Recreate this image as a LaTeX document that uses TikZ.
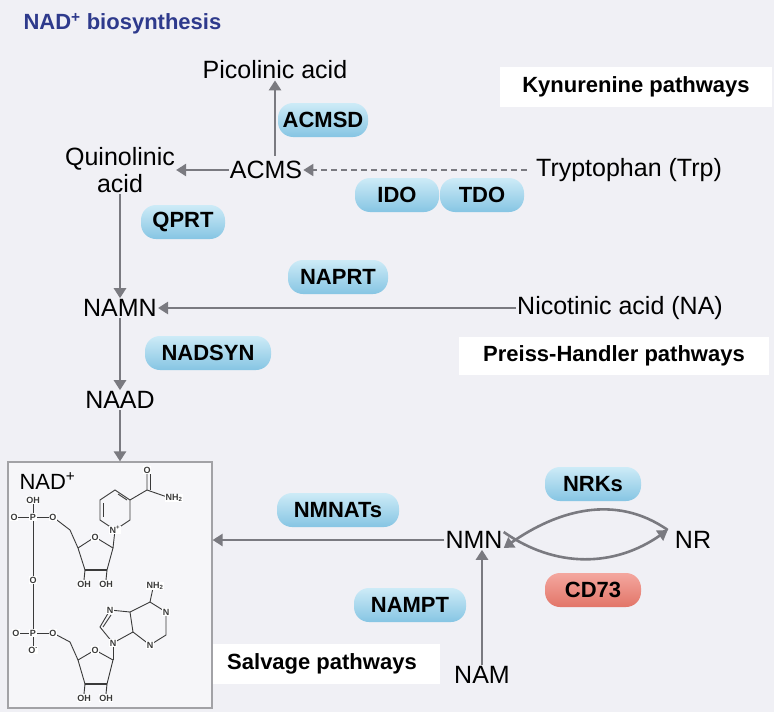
\documentclass[tikz,border=0pt]{standalone}
\usepackage{fontspec}
\setmainfont{Liberation Sans}
\usetikzlibrary{arrows.meta,shapes.geometric}
\definecolor{bg}{HTML}{F0F0F5}
\definecolor{titleblue}{HTML}{2E3A8C}
\definecolor{arrgray}{HTML}{7A7A80}
\definecolor{pilltop}{HTML}{CDEBF7}
\definecolor{pillbot}{HTML}{86C5E3}
\definecolor{redtop}{HTML}{F4A79F}
\definecolor{redbot}{HTML}{E27568}
\definecolor{chem}{HTML}{3A3A3A}
\tikzset{
  x=1pt,y=-1pt,
  lbl/.style={font=\fontsize{25}{27}\selectfont, text=black, align=center, inner sep=1pt},
  pill/.style={rounded corners=15pt, minimum height=34pt, minimum width=90pt, top color=pilltop, bottom color=pillbot, draw=none, font=\fontsize{22}{24}\selectfont\bfseries, inner sep=2pt},
  redpill/.style={pill, top color=redtop, bottom color=redbot},
  whitebox/.style={fill=white, draw=none, font=\fontsize{22}{24}\selectfont\bfseries, inner sep=0pt},
  arr/.style={draw=arrgray, line width=2.6pt, -{Triangle[length=10pt,width=12pt]}},
  ch/.style={draw=chem, line width=0.9pt},
  ct/.style={font=\fontsize{9}{10}\selectfont\bfseries, text=chem, inner sep=0.5pt, fill=white}
}
\begin{document}
\begin{tikzpicture}
\fill[bg] (0,0) rectangle (774,712);
\useasboundingbox (0,0) rectangle (774,712);

\node[anchor=west, font=\fontsize{22}{24}\selectfont\bfseries, text=titleblue] (title) at (20,24) {NAD\textsuperscript{+} biosynthesis};

% white label boxes
\node[whitebox, minimum width=272pt, minimum height=40pt] (kyn) at (636,87) {Kynurenine pathways};
\node[whitebox, minimum width=310pt, minimum height=38pt] (ph) at (614,356) {Preiss-Handler pathways};
\node[whitebox, minimum width=236pt, minimum height=40pt] (salv) at (322,664) {Salvage pathways};

% metabolites
\node[lbl] (pic) at (275,70) {Picolinic acid};
\node[lbl] (quin) at (120,170) {Quinolinic\\acid};
\node[lbl] (acms) at (266,170) {ACMS};
\node[lbl] (trp) at (629,170) {Tryptophan (Trp)};
\node[lbl] (namn) at (120,308) {NAMN};
\node[lbl] (na) at (620,308) {Nicotinic acid (NA)};
\node[lbl] (naad) at (120,400) {NAAD};
\node[lbl] (nmn) at (474,540) {NMN};
\node[lbl] (nr) at (693,540) {NR};
\node[lbl] (nam) at (482,675) {NAM};

% enzymes
\node[pill] (acmsd) at (323,120) {ACMSD};
\node[pill, minimum width=84pt] (ido) at (397,195) {IDO};
\node[pill, minimum width=84pt] (tdo) at (482,195) {TDO};
\node[pill, minimum width=84pt] (qprt) at (183,222) {QPRT};
\node[pill, minimum width=100pt] (naprt) at (338,277) {NAPRT};
\node[pill, minimum width=126pt] (nadsyn) at (208,353) {NADSYN};
\node[pill, minimum width=122pt] (nmnat) at (338,510) {NMNATs};
\node[pill, minimum width=96pt] (nrk) at (593,484) {NRKs};
\node[redpill, minimum width=96pt] (cd73) at (593,590) {CD73};
\node[pill, minimum width=112pt] (nampt) at (410,605) {NAMPT};

% NAD+ box
\node[draw=arrgray!70, line width=1.2pt, fill=bg!60!white, minimum width=204pt, minimum height=246pt, inner sep=0pt] (nadbox) at (110,585) {};

% arrows
\draw[arr] (acms.north -| pic) ++(0,-4) coordinate (a0) -- (pic.south);
\draw[arr] (acms.west) -- (quin.east |- acms.west);
\draw[arr, dash pattern=on 6pt off 4pt, line width=1.8pt] (trp.west) ++(-8,0) coordinate (t0) -- (acms.east);
\draw[arr] (quin.south) -- (namn.north);
\draw[arr] (na.west) -- (namn.east);
\draw[arr] (namn.south) -- (naad.north);
\draw[arr] (naad.south) -- (nadbox.north -| naad.south);
\draw[arr] (nmn.west) -- (nadbox.east |- nmn.west);
\draw[arr] (nam.north) -- (nmn.south -| nam.north);
\draw[arr] (nr.west) ++(-6,-10) coordinate (r0) to[out=145,in=35] ([yshift=-8pt]nmn.east);
\draw[arr] ([yshift=8pt]nmn.east) to[out=-35,in=215] ([xshift=-6pt,yshift=10pt]nr.west);

% chemical structure
\node[anchor=west, font=\fontsize{22}{24}\selectfont] (nadlbl) at (16,481) {NAD\textsuperscript{+}};
\begin{scope}[ch]
\draw (33,503) -- (33,633);
\draw (14,517) -- (53,517);
\draw (16,633) -- (53,633);
\draw (33,633) -- (33,650);
\draw (53,517) -- (70,530) -- (78,548);
\draw (78,548) -- (95,537) -- (113,548) -- (107,570) -- (85,570) -- cycle;
\draw[line width=2.4pt] (85,570) -- (107,570);
\draw (85,570) -- (84,580); \draw (107,570) -- (106,580);
\draw (113,548) -- (115,530);
\draw (115,530) -- (100,520) -- (100,500) -- (115,490) -- (130,500) -- (130,520) -- cycle;
\draw (103,503) -- (103,517);
\draw (118,494) -- (127,500);
\draw (130,500) -- (147,490) -- (147,472); \draw (150,490) -- (150,474);
\draw (147,490) -- (170,498);
\draw (53,633) -- (70,642) -- (78,660);
\draw (78,660) -- (95,650) -- (113,660) -- (107,684) -- (85,684) -- cycle;
\draw[line width=2.4pt] (85,684) -- (107,684);
\draw (85,684) -- (84,694); \draw (107,684) -- (106,694);
\draw (113,660) -- (113,643);
\draw (113,643) -- (100,627) -- (110,610) -- (130,612) -- (133,632) -- cycle;
\draw (103,627) -- (111,615);
\draw (130,612) -- (150,602) -- (166,612) -- (166,635) -- (150,645) -- (133,632);
\draw (150,602) -- (153,588);
\end{scope}
\node[ct] (oh1) at (33,500) {OH};
\node[ct] (o1) at (14,517) {O};
\node[ct] (p1) at (33,517) {P};
\node[ct] (o2) at (53,517) {O};
\node[ct] (o3) at (33,580) {O};
\node[ct] (o4) at (16,633) {O};
\node[ct] (p2) at (33,633) {P};
\node[ct] (o5) at (53,633) {O};
\node[ct] (om) at (33,650) {O\textsuperscript{-}};
\node[ct] (rO1) at (95,537) {O};
\node[ct] (n1) at (115,530) {N\textsuperscript{+}};
\node[ct] (oa) at (147,470) {O};
\node[ct] (nh2a) at (174,498) {NH\textsubscript{2}};
\node[ct] (oh2) at (84,584) {OH};
\node[ct] (oh3) at (106,584) {OH};
\node[ct] (rO2) at (95,650) {O};
\node[ct] (n9) at (113,643) {N};
\node[ct] (n7) at (110,610) {N};
\node[ct] (n1b) at (166,612) {N};
\node[ct] (n3) at (150,645) {N};
\node[ct] (nh2b) at (155,586) {NH\textsubscript{2}};
\node[ct] (oh4) at (84,698) {OH};
\node[ct] (oh5) at (106,698) {OH};
\end{tikzpicture}
\end{document}
